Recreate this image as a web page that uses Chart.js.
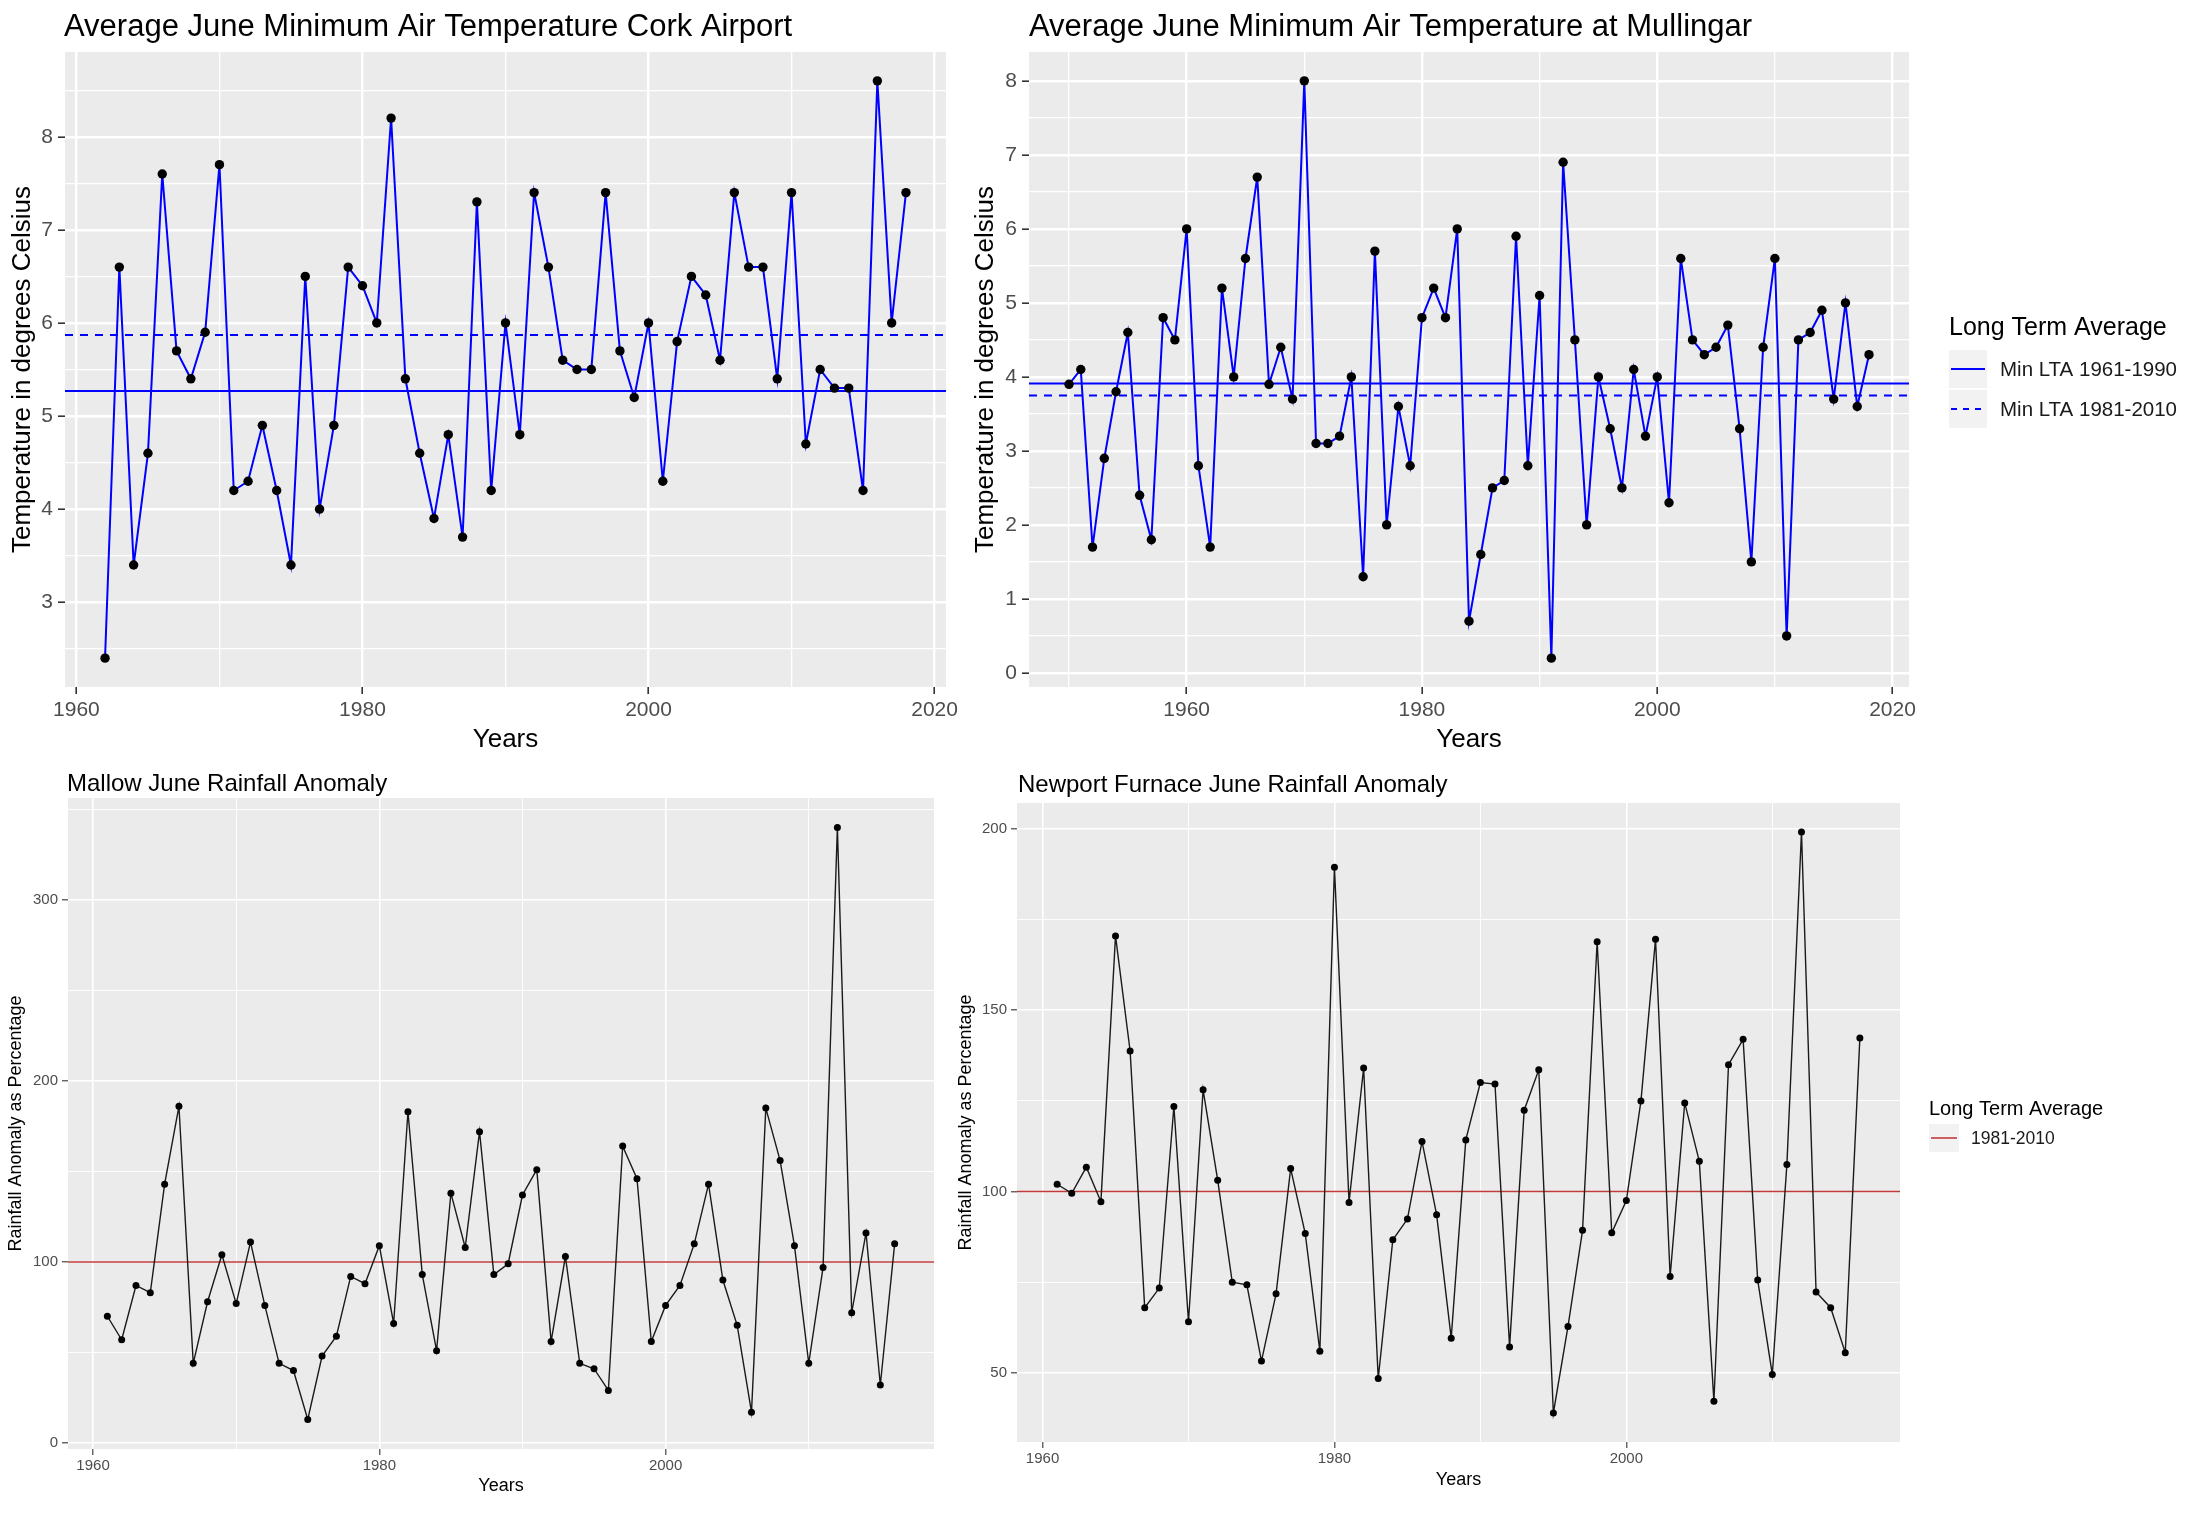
<!DOCTYPE html>
<html><head><meta charset="utf-8">
<script src="https://cdn.jsdelivr.net/npm/chart.js@4.4.1/dist/chart.umd.min.js"></script>
<style>
html,body{margin:0;padding:0;background:#fff;}
#wrap{position:relative;width:2209px;height:1524px;overflow:hidden;}
#wrap canvas{position:absolute;left:0;top:0;}
</style></head><body><div id="wrap">
<canvas id="c1" width="2209" height="1524"></canvas>
<canvas id="c2" width="2209" height="1524"></canvas>
<canvas id="c3" width="2209" height="1524"></canvas>
<canvas id="c4" width="2209" height="1524"></canvas>
</div>
<script>
// ---------------- DATA ----------------
const corkYears = [1962,1963,1964,1965,1966,1967,1968,1969,1970,1971,1972,1973,1974,1975,1976,1977,1978,1979,1980,1981,1982,1983,1984,1985,1986,1987,1988,1989,1990,1991,1992,1993,1994,1995,1996,1997,1998,1999,2000,2001,2002,2003,2004,2005,2006,2007,2008,2009,2010,2011,2012,2013,2014,2015,2016,2017,2018];
const corkMinTemp = [2.4,6.6,3.4,4.6,7.6,5.7,5.4,5.9,7.7,4.2,4.3,4.9,4.2,3.4,6.5,4.0,4.9,6.6,6.4,6.0,8.2,5.4,4.6,3.9,4.8,3.7,7.3,4.2,6.0,4.8,7.4,6.6,5.6,5.5,5.5,7.4,5.7,5.2,6.0,4.3,5.8,6.5,6.3,5.6,7.4,6.6,6.6,5.4,7.4,4.7,5.5,5.3,5.3,4.2,8.6,6.0,7.4];
const corkLTA6190 = 5.27;
const corkLTA8110 = 5.87;

const mullYears = [1950,1951,1952,1953,1954,1955,1956,1957,1958,1959,1960,1961,1962,1963,1964,1965,1966,1967,1968,1969,1970,1971,1972,1973,1974,1975,1976,1977,1978,1979,1980,1981,1982,1983,1984,1985,1986,1987,1988,1989,1990,1991,1992,1993,1994,1995,1996,1997,1998,1999,2000,2001,2002,2003,2004,2005,2006,2007,2008,2009,2010,2011,2012,2013,2014,2015,2016,2017,2018];
const mullMinTemp = [3.9,4.1,1.7,2.9,3.8,4.6,2.4,1.8,4.8,4.5,6.0,2.8,1.7,5.2,4.0,5.6,6.7,3.9,4.4,3.7,8.0,3.1,3.1,3.2,4.0,1.3,5.7,2.0,3.6,2.8,4.8,5.2,4.8,6.0,0.7,1.6,2.5,2.6,5.9,2.8,5.1,0.2,6.9,4.5,2.0,4.0,3.3,2.5,4.1,3.2,4.0,2.3,5.6,4.5,4.3,4.4,4.7,3.3,1.5,4.4,5.6,0.5,4.5,4.6,4.9,3.7,5.0,3.6,4.3];
const mullLTA6190 = 3.91;
const mullLTA8110 = 3.75;

const rainYears = [1961,1962,1963,1964,1965,1966,1967,1968,1969,1970,1971,1972,1973,1974,1975,1976,1977,1978,1979,1980,1981,1982,1983,1984,1985,1986,1987,1988,1989,1990,1991,1992,1993,1994,1995,1996,1997,1998,1999,2000,2001,2002,2003,2004,2005,2006,2007,2008,2009,2010,2011,2012,2013,2014,2015,2016];
const mallowRain = [70,57,87,83,143,186,44,78,104,77,111,76,44,40,13,48,59,92,88,109,66,183,93,51,138,108,172,93,99,137,151,56,103,44,41,29,164,146,56,76,87,110,143,90,65,17,185,156,109,44,97,340,72,116,32,110];
const newportRain = [102,99.5,106.7,97.2,170.4,138.7,68,73.4,123.4,64.1,128,103.1,75,74.3,53.3,71.8,106.3,88.4,56,189.3,97,134,48.5,86.7,92.4,113.8,93.6,59.6,114.2,130,129.6,57.2,122.4,133.5,39,62.8,89.3,168.8,88.6,97.5,124.9,169.5,76.6,124.4,108.3,42.2,134.9,141.9,75.6,49.6,107.4,199,72.3,68,55.6,142.3];
const rainLTA8110 = 100;

// tick labels (major) and minor grid positions
const xMajorTicks = [1960,1980,2000,2020];
const xMinorTicks = [1950,1970,1990,2010];
const corkYMajor = [3,4,5,6,7,8];
const corkYMinor = [2.5,3.5,4.5,5.5,6.5,7.5,8.5];
const mullYMajor = [0,1,2,3,4,5,6,7,8];
const mullYMinor = [0.5,1.5,2.5,3.5,4.5,5.5,6.5,7.5];
const mallowYMajor = [0,100,200,300];
const mallowYMinor = [50,150,250,350];
const newportYMajor = [50,100,150,200];
const newportYMinor = [75,125,175];

const titles = [
  'Average June Minimum Air Temperature Cork Airport',
  'Average June Minimum Air Temperature at Mullingar',
  'Mallow June Rainfall Anomaly',
  'Newport Furnace June Rainfall Anomaly'
];
const legendTitle = 'Long Term Average';
const tempLegendLabels = ['Min LTA 1961-1990','Min LTA 1981-2010'];
const rainLegendLabels = ['1981-2010'];

// ---------------- RENDER ----------------
const FONT = '"Liberation Sans", Arial, Helvetica, sans-serif';
const W = 2209, H = 1524;

function expand(arr){ const mn=Math.min(...arr), mx=Math.max(...arr), d=(mx-mn)*0.05; return [mn-d, mx+d]; }
function pts(xs, ys){ return xs.map((x,i)=>({x:x, y:ys[i]})); }

const ggPlugin = {
  id: 'gg',
  beforeDraw(chart){
    const a = chart.chartArea, c = chart.ctx;
    c.save(); c.fillStyle = '#EBEBEB'; c.fillRect(a.left, a.top, a.right-a.left, a.bottom-a.top); c.restore();
  },
  afterDraw(chart, args, o){
    const c = chart.ctx;
    c.save();
    if (o.title){
      c.fillStyle = '#000'; c.font = o.title.size + 'px ' + FONT;
      c.textBaseline = 'alphabetic'; c.textAlign = 'left';
      c.fillText(o.title.text, o.title.x, o.title.y);
    }
    if (o.legend){
      const L = o.legend;
      c.fillStyle = '#000'; c.font = L.titleSize + 'px ' + FONT;
      c.textBaseline = 'alphabetic'; c.textAlign = 'left';
      c.fillText(L.title, L.x, L.titleY);
      L.items.forEach((it, i) => {
        const ky = L.keyY + i*(L.keyH + L.gap);
        c.fillStyle = '#F2F2F2'; c.fillRect(L.x, ky, L.keyW, L.keyH);
        c.strokeStyle = it.color; c.lineWidth = it.width; c.setLineDash(it.dash || []);
        c.beginPath(); c.moveTo(L.x + 2, ky + L.keyH/2); c.lineTo(L.x + L.keyW - 2, ky + L.keyH/2); c.stroke();
        c.setLineDash([]);
        c.fillStyle = '#1A1A1A'; c.font = L.labelSize + 'px ' + FONT; c.textBaseline = 'middle';
        c.fillText(it.label, L.x + L.keyW + L.labelGap, ky + L.keyH/2 + 1);
      });
    }
    c.restore();
  }
};

function makePanel(id, p){
  const [xmin, xmax] = expand(p.years);
  const [ymin, ymax] = expand(p.values);
  const xTicks = xMajorTicks.concat(xMinorTicks).filter(v => v >= xmin && v <= xmax).sort((a,b)=>a-b);
  const yTicks = p.yMajor.concat(p.yMinor).filter(v => v >= ymin && v <= ymax).sort((a,b)=>a-b);
  const isMajX = v => xMajorTicks.includes(v);
  const isMajY = v => p.yMajor.includes(v);
  const s = p.style;
  const yLH = s.axisTitleSize*1.2;
  const yBoxLeft = p.yTitleX - yLH/2;
  const yW = p.L - yBoxLeft;
  const xH = p.xTitleY + yLH/2 - p.B;

  const datasets = [{
    data: pts(p.years, p.values), borderColor: s.lineColor, borderWidth: s.lineWidth,
    pointRadius: s.pointRadius, pointBackgroundColor: '#000', pointBorderWidth: 0,
    pointHoverRadius: s.pointRadius, tension: 0, order: 0, fill: false
  }];
  p.ltas.forEach(l => datasets.push({
    data: [{x:xmin, y:l.value},{x:xmax, y:l.value}], borderColor: l.color, borderWidth: l.width,
    borderDash: l.dash || [], pointRadius: 0, tension: 0, order: 1, fill: false
  }));

  function axisCommon(isMaj, ticksArr){
    return {
      type: 'linear',
      afterBuildTicks: sc => { sc.ticks = ticksArr.map(v => ({value: v})); },
      border: {display: false},
      grid: {
        color: '#FFFFFF',
        lineWidth: ctx => (ctx.tick && isMaj(ctx.tick.value)) ? s.majorGrid : s.minorGrid,
        tickColor: ctx => (ctx.tick && isMaj(ctx.tick.value)) ? '#333333' : 'rgba(0,0,0,0)',
        tickWidth: s.tickWidth,
        tickLength: s.tickLength,
        drawTicks: true
      },
      ticks: {
        autoSkip: false, maxRotation: 0, minRotation: 0,
        color: '#4D4D4D', font: {family: FONT, size: s.tickSize},
        callback: v => isMaj(v) ? String(v) : ''
      }
    };
  }
  const xAx = axisCommon(isMajX, xTicks);
  Object.assign(xAx, {min: xmin, max: xmax, position: 'bottom',
    afterFit: sc => { sc.height = xH; },
    title: {display: true, text: 'Years', color: '#000', font: {family: FONT, size: s.axisTitleSize}, padding: 0}});
  xAx.ticks.padding = s.xTickPad;
  const yAx = axisCommon(isMajY, yTicks);
  Object.assign(yAx, {min: ymin, max: ymax, position: 'left',
    afterFit: sc => { sc.width = yW; },
    title: {display: true, text: p.yTitle, color: '#000', font: {family: FONT, size: s.axisTitleSize}, padding: 0}});
  yAx.ticks.padding = s.yTickPad;

  return new Chart(document.getElementById(id), {
    type: 'line',
    data: {datasets},
    options: {
      responsive: false, animation: false, devicePixelRatio: 1, events: [],
      layout: {padding: {left: yBoxLeft, top: p.T, right: W - p.R, bottom: H - p.B - xH}},
      scales: {x: xAx, y: yAx},
      plugins: {legend: {display: false}, tooltip: {enabled: false}, title: {display: false},
        gg: {title: p.title, legend: p.legend}}
    },
    plugins: [ggPlugin]
  });
}

const topStyle = {lineColor: '#0000FF', lineWidth: 2, pointRadius: 4.7, majorGrid: 2.4, minorGrid: 1.3,
  tickWidth: 1.6, tickLength: 7, tickSize: 21, axisTitleSize: 26, xTickPad: 4, yTickPad: 5};
const botStyle = {lineColor: '#1A1A1A', lineWidth: 1.4, pointRadius: 3.5, majorGrid: 1.6, minorGrid: 0.9,
  tickWidth: 1.1, tickLength: 6, tickSize: 15, axisTitleSize: 18, xTickPad: 2, yTickPad: 4};

makePanel('c1', {years: corkYears, values: corkMinTemp, yMajor: corkYMajor, yMinor: corkYMinor,
  L: 65, R: 946, T: 52, B: 687, yTitleX: 23, xTitleY: 740, style: topStyle,
  yTitle: 'Temperature in degrees Celsius',
  ltas: [{value: corkLTA6190, color: '#0000FF', width: 2}, {value: corkLTA8110, color: '#0000FF', width: 2, dash: [8,7]}],
  title: {text: titles[0], x: 64, y: 36, size: 31}});

makePanel('c2', {years: mullYears, values: mullMinTemp, yMajor: mullYMajor, yMinor: mullYMinor,
  L: 1029, R: 1909, T: 52, B: 687, yTitleX: 986, xTitleY: 740, style: topStyle,
  yTitle: 'Temperature in degrees Celsius',
  ltas: [{value: mullLTA6190, color: '#0000FF', width: 2}, {value: mullLTA8110, color: '#0000FF', width: 2, dash: [8,7]}],
  title: {text: titles[1], x: 1029, y: 36, size: 31},
  legend: {title: legendTitle, x: 1949, titleY: 335, titleSize: 25, keyY: 350, keyW: 38, keyH: 38, gap: 2,
    labelSize: 20.5, labelGap: 13,
    items: [{label: tempLegendLabels[0], color: '#0000FF', width: 2},
            {label: tempLegendLabels[1], color: '#0000FF', width: 2, dash: [6,6]}]}});

makePanel('c3', {years: rainYears, values: mallowRain, yMajor: mallowYMajor, yMinor: mallowYMinor,
  L: 68, R: 934, T: 798, B: 1449, yTitleX: 16.5, xTitleY: 1486, style: botStyle,
  yTitle: 'Rainfall Anomaly as Percentage',
  ltas: [{value: rainLTA8110, color: '#C23B3B', width: 1.6}],
  title: {text: titles[2], x: 67, y: 791, size: 24}});

makePanel('c4', {years: rainYears, values: newportRain, yMajor: newportYMajor, yMinor: newportYMinor,
  L: 1017, R: 1900, T: 803, B: 1442, yTitleX: 966, xTitleY: 1480, style: botStyle,
  yTitle: 'Rainfall Anomaly as Percentage',
  ltas: [{value: rainLTA8110, color: '#C23B3B', width: 1.6}],
  title: {text: titles[3], x: 1018, y: 792, size: 24},
  legend: {title: legendTitle, x: 1929, titleY: 1115, titleSize: 20, keyY: 1124, keyW: 30, keyH: 28, gap: 2,
    labelSize: 17.5, labelGap: 12,
    items: [{label: rainLegendLabels[0], color: '#C23B3B', width: 1.6}]}});
</script>
</body></html>
